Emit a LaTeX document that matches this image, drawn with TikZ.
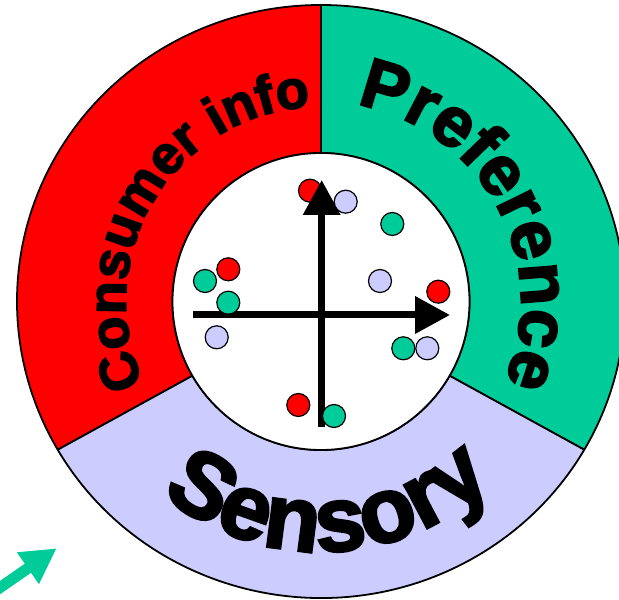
\documentclass[tikz,border=0pt]{standalone}
\usepackage{fontspec}
\newfontfamily\heavy{Liberation Sans}[UprightFont={* Bold}, FakeBold=3]
\usetikzlibrary{decorations.text, arrows.meta}
\definecolor{cred}{HTML}{FF0000}
\definecolor{cgreen}{HTML}{00CC99}
\definecolor{clav}{HTML}{CCCCFF}
\newcommand\fontConsumer{\heavy\fontsize{54}{54}\selectfont}
\newcommand\fontPref{\heavy\fontsize{70}{70}\selectfont}
\newcommand\fontSens{\heavy\fontsize{92}{92}\selectfont}
\begin{document}
\begin{tikzpicture}[x=1pt,y=1pt,
  seg/.style={draw=black, line width=1.8pt, line join=round},
  dot/.style={circle, draw=black, line width=1.2pt, minimum size=23pt, inner sep=0pt},
  axis/.style={line width=7pt, -{Triangle[length=35pt,width=36pt]}}]
\useasboundingbox (0,0) rectangle (619,600);
\begin{scope}[shift={(321,298.5)}]
  % ring segments
  \draw[seg, fill=cred] (0,296.5) arc[start angle=90, end angle=210, x radius=304, y radius=296.5]
     -- (210:148.5) arc[start angle=210, end angle=90, radius=148.5] -- cycle;
  \draw[seg, fill=cgreen] (0,296.5) arc[start angle=90, end angle=-30, x radius=304, y radius=296.5]
     -- (-30:148.5) arc[start angle=-30, end angle=90, radius=148.5] -- cycle;
  \draw[seg, fill=clav] (210:304 and 296.5) arc[start angle=210, end angle=330, x radius=304, y radius=296.5]
     -- (330:148.5) arc[start angle=330, end angle=210, radius=148.5] -- cycle;
  \draw[seg, fill=white] (0,0) circle[radius=148.5];
  % top red dot under arrow
  \node[dot, fill=cred] (d1) at (-11,110.8) {};
  % axes
  \coordinate (vb) at (0.7,-125.5);
  \coordinate (vt) at (0.7,121.5);
  \coordinate (hl) at (-128,-13.5);
  \coordinate (hr) at (129,-13.5);
  \draw[axis] (vb) -- (vt);
  \draw[axis] (hl) -- (hr);
  % dots
  \node[dot, fill=clav]   (d2)  at (24.7,99.8) {};
  \node[dot, fill=cgreen] (d3)  at (71.3,77.5) {};
  \node[dot, fill=cgreen] (d5)  at (-116,20.5) {};
  \node[dot, fill=cred]   (d4)  at (-92.7,32.2) {};
  \node[dot, fill=cgreen] (d6)  at (-92.7,-1.2) {};
  \node[dot, fill=clav]   (d7)  at (59,20.5) {};
  \node[dot, fill=cred]   (d8)  at (117.3,9.8) {};
  \node[dot, fill=clav]   (d9)  at (-104.3,-35.8) {};
  \node[dot, fill=clav]   (d11) at (106.3,-46.8) {};
  \node[dot, fill=cgreen] (d10) at (82.3,-46.8) {};
  \node[dot, fill=cred]   (d12) at (-22.7,-103.5) {};
  \node[dot, fill=cgreen] (d13) at (13,-114.5) {};
  % curved labels
  \path[decorate, decoration={text along path, text align=center,
      text={|\fontConsumer|Consumer info}}]
      (211:195) arc[start angle=211, end angle=87, radius=195];
  \path[decorate, decoration={text along path, text align=center,
      text={|\fontPref|Preference}}]
      (89:200) arc[start angle=89, end angle=-33, radius=200];
  \path[decorate, decoration={text along path, text align=center,
      text={|\fontSens|Sensory}}]
      (211:250) arc[start angle=211, end angle=333, radius=250];
\end{scope}
% green arrow bottom-left
\coordinate (gs) at (-12,4.1);
\coordinate (gt) at (56.7,51.7);
\draw[cgreen, line width=11pt, -{Triangle[length=35pt,width=36pt]}] (gs) -- (gt);
\end{tikzpicture}
\end{document}
